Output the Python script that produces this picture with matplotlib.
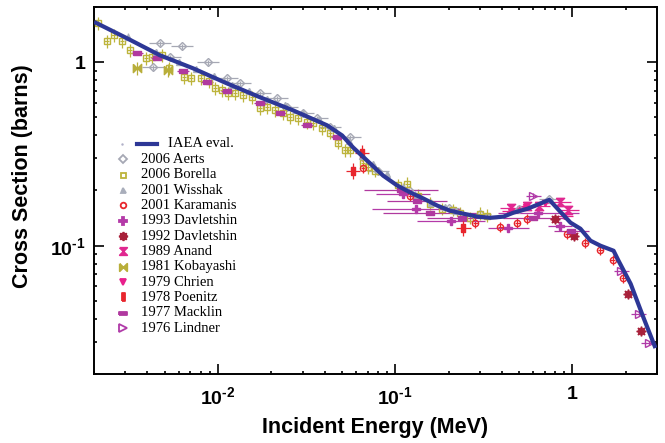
import numpy as np
import matplotlib
matplotlib.use("Agg")
import matplotlib.pyplot as plt
from matplotlib.ticker import FixedLocator, FixedFormatter, LogLocator, NullFormatter

plt.rcParams['mathtext.fontset'] = 'custom'
plt.rcParams['mathtext.rm'] = 'Liberation Sans:bold'
plt.rcParams['mathtext.it'] = 'Liberation Sans:bold'
plt.rcParams['mathtext.bf'] = 'Liberation Sans:bold'
plt.rcParams['mathtext.default'] = 'rm'

# IAEA evaluation (MeV, barns)
iaea_e = [0.002, 0.00306, 0.0047, 0.00723, 0.0112, 0.0173, 0.0265, 0.0413, 0.0502, 0.0579,
          0.0722, 0.0855, 0.1026, 0.1216, 0.1439, 0.1727, 0.2046, 0.2421, 0.2906, 0.3441,
          0.4076, 0.4645, 0.557, 0.659, 0.741, 0.855, 0.975, 1.109, 1.264, 1.439,
          1.706, 1.82, 2.13, 2.52, 2.94]
iaea_xs = [1.66, 1.353, 1.092, 0.927, 0.768, 0.644, 0.547, 0.453, 0.399, 0.343,
           0.281, 0.241, 0.213, 0.195, 0.181, 0.1655, 0.155, 0.1496, 0.144, 0.142,
           0.144, 0.1514, 0.159, 0.1698, 0.178, 0.153, 0.1336, 0.1238, 0.1065, 0.100,
           0.0939, 0.0828, 0.062, 0.0404, 0.0277]

aerts_e = [0.0043, 0.0047, 0.00536, 0.00626, 0.00879, 0.01124, 0.0133, 0.01727, 0.02153, 0.02454,
           0.0302, 0.03625, 0.04292, 0.0557, 0.08, 0.12, 0.2, 0.3, 0.5, 0.74]
aerts_xs = [0.939, 1.27, 1.065, 1.22, 1.0, 0.818, 0.768, 0.677, 0.636, 0.568,
            0.526, 0.494, 0.442, 0.389, 0.255, 0.20, 0.16, 0.148, 0.158, 0.18]

borella_e = [0.0021, 0.00236, 0.00258, 0.00287, 0.00318, 0.00392, 0.00424, 0.00483, 0.00529, 0.00643,
             0.00703, 0.00802, 0.00889, 0.00962, 0.01054, 0.01138, 0.01248, 0.01384, 0.01556, 0.01726,
             0.01892, 0.02099, 0.02328, 0.02552, 0.02831, 0.03184, 0.03443, 0.03869, 0.04292, 0.04762,
             0.05224, 0.05571, 0.06594, 0.07036, 0.07709, 0.104, 0.117, 0.135, 0.158, 0.1844,
             0.2128, 0.2328, 0.2655, 0.302, 0.331]
borella_xs = [1.63, 1.30, 1.40, 1.30, 1.16, 1.05, 1.065, 1.09, 0.927, 0.828,
              0.818, 0.818, 0.787, 0.721, 0.703, 0.677, 0.677, 0.660, 0.644, 0.561,
              0.568, 0.547, 0.526, 0.50, 0.494, 0.47, 0.464, 0.436, 0.414, 0.365,
              0.331, 0.331, 0.284, 0.267, 0.257, 0.213, 0.218, 0.1876, 0.1698, 0.159,
              0.157, 0.151, 0.142, 0.1496, 0.146]

wisshak_e = [0.0031, 0.0045, 0.006, 0.0075, 0.0095, 0.012, 0.015, 0.019, 0.024, 0.03,
             0.037, 0.045, 0.055, 0.065, 0.075, 0.09, 0.11, 0.13, 0.16, 0.19, 0.22]
wisshak_xs = [1.38, 1.14, 1.0, 0.92, 0.84, 0.75, 0.70, 0.63, 0.585, 0.53,
              0.49, 0.44, 0.37, 0.31, 0.28, 0.245, 0.21, 0.19, 0.172, 0.162, 0.155]

karamanis_e = [0.0659, 0.1216, 0.283, 0.392, 0.489, 0.557, 0.937, 1.184, 1.439, 1.683, 1.94]
karamanis_xs = [0.264, 0.1876, 0.1336, 0.127, 0.1336, 0.1405, 0.1163, 0.1038, 0.095, 0.0838, 0.0669]

davl93_e = [0.11, 0.131, 0.207, 0.435, 0.643, 0.855]
davl93_xs = [0.192, 0.159, 0.137, 0.125, 0.151, 0.1285]
davl93_dx = [0.42, 0.78, 0.55, 0.3, 0.7, 0.17]

davl92_e = [0.802, 1.014, 2.05, 2.45]
davl92_xs = [0.1405, 0.1135, 0.0547, 0.0343]

anand_e = [0.45, 0.557, 0.65, 0.855, 0.949]
anand_xs = [0.16, 0.1655, 0.165, 0.174, 0.157]

kobayashi_e = [0.00348, 0.00522]
kobayashi_xs = [0.927, 0.904]

chrien_e = [0.45, 0.55, 0.7, 0.9]
chrien_xs = [0.155, 0.162, 0.17, 0.145]

poenitz_e = [0.0579, 0.0651, 0.242]
poenitz_xs = [0.257, 0.322, 0.125]

macklin_e = [0.00348, 0.00452, 0.00634, 0.00867, 0.01124, 0.01727, 0.0224, 0.03184, 0.04699,
             0.108, 0.133, 0.158, 0.239, 0.602, 0.987]
macklin_xs = [1.12, 1.05, 0.893, 0.778, 0.695, 0.597, 0.526, 0.453, 0.389,
              0.20, 0.176, 0.151, 0.142, 0.142, 0.121]
macklin_dx = [0.08, 0.08, 0.08, 0.08, 0.08, 0.08, 0.08, 0.08, 0.08,
              0.61, 0.48, 0.84, 0.58, 0.48, 0.26]

lindner_e = [0.602, 1.89, 2.36, 2.69]
lindner_xs = [0.1876, 0.073, 0.0425, 0.0295]

# custom marker shapes
hourglass = [(-1, 1), (1, 1), (-1, -1), (1, -1), (-1, 1)]
bowtie = [(-1, 1), (-1, -1), (1, 1), (1, -1), (-1, 1)]
vbar = [(-0.4, -1), (0.4, -1), (0.4, 1), (-0.4, 1), (-0.4, -1)]
hbar = [(-1, -0.4), (1, -0.4), (1, 0.4), (-1, 0.4), (-1, -0.4)]

# label, E, xs, dx(rel), dy(rel), color, marker, size, filled
sets = [
    ('2006 Aerts', aerts_e, aerts_xs, 0.15, 0.03, '#a6a8b4', 'D', 4, False),
    ('2006 Borella', borella_e, borella_xs, 0.03, 0.08, '#bdb43c', 's', 4, False),
    ('2001 Wisshak', wisshak_e, wisshak_xs, 0.03, 0.04, '#a9aebb', '^', 4, True),
    ('2001 Karamanis', karamanis_e, karamanis_xs, 0.03, 0.06, '#e8262c', 'o', 4.5, False),
    ('1993 Davletshin', davl93_e, davl93_xs, davl93_dx, 0.04, '#b43aa8', 'P', 6, True),
    ('1992 Davletshin', davl92_e, davl92_xs, 0.05, 0.04, '#a8203a', (8, 1, 0), 7, True),
    ('1989 Anand', anand_e, anand_xs, 0.15, 0.03, '#e02890', hourglass, 6, True),
    ('1981 Kobayashi', kobayashi_e, kobayashi_xs, 0.04, 0.08, '#b8ae3a', bowtie, 6, True),
    ('1979 Chrien', chrien_e, chrien_xs, 0.12, 0.03, '#e8208c', 'v', 5, True),
    ('1978 Poenitz', poenitz_e, poenitz_xs, 0.1, 0.1, '#e8262e', vbar, 6, True),
    ('1977 Macklin', macklin_e, macklin_xs, macklin_dx, 0.02, '#b0399f', hbar, 6, True),
    ('1976 Lindner', lindner_e, lindner_xs, 0.1, 0.03, '#b03aa8', '>', 6, False),
]

fig = plt.figure(figsize=(6.65, 4.43), dpi=100)
ax = fig.add_axes([0.1414, 0.1558, 0.8466, 0.8284])
ax.set_xscale('log')
ax.set_yscale('log')

for lab, e, xs, dx, dy, col, mk, ms, filled in sets:
    e = np.array(e)
    xs = np.array(xs)
    f = 1 + np.array(dx) * np.ones_like(e)
    xerr = [e - e / f, e * f - e]
    yerr = [xs * dy, xs * dy]
    ax.errorbar(e, xs, xerr=xerr, yerr=yerr, fmt='none', ecolor=col, elinewidth=0.9, capsize=0, zorder=2)
    ax.plot(e, xs, ls='none', marker=mk, ms=ms, color=col,
            mfc=col if filled else 'none', mec=col, mew=1.0, zorder=3)

ax.plot(iaea_e, iaea_xs, color='#2d3796', lw=3.0, zorder=5, solid_capstyle='butt')

ax.set_xlim(0.002, 3.0)
ax.set_ylim(0.02, 2.0)

ax.xaxis.set_major_locator(FixedLocator([0.01, 0.1, 1]))
ax.xaxis.set_major_formatter(FixedFormatter([r'$10^{\text{-}2}$', r'$10^{\text{-}1}$', '1']))
ax.xaxis.set_minor_locator(LogLocator(base=10, subs=np.arange(2, 10)))
ax.xaxis.set_minor_formatter(NullFormatter())
ax.yaxis.set_major_locator(FixedLocator([0.1, 1]))
ax.yaxis.set_major_formatter(FixedFormatter([r'$10^{\text{-}1}$', '1']))
ax.yaxis.set_minor_locator(LogLocator(base=10, subs=np.arange(2, 10)))
ax.yaxis.set_minor_formatter(NullFormatter())

ax.tick_params(which='both', direction='in', top=True, right=True, width=1.2)
ax.tick_params(which='major', length=7)
ax.tick_params(which='minor', length=2.5)
ax.tick_params(axis='x', which='major', pad=9)
ax.tick_params(axis='y', which='major', pad=6)
for lbl in ax.get_xticklabels() + ax.get_yticklabels():
    lbl.set_fontfamily('Liberation Sans')
    lbl.set_fontweight('bold')
    lbl.set_fontsize(14)
for sp in ax.spines.values():
    sp.set_linewidth(1.4)

ax.set_xlabel('Incident Energy (MeV)', fontfamily='Liberation Sans', fontweight='bold', fontsize=15.5)
ax.set_ylabel('Cross Section (barns)', fontfamily='Liberation Sans', fontweight='bold', fontsize=15.5)
ax.xaxis.set_label_coords(0.5, -0.118)
ax.yaxis.set_label_coords(-0.108, 0.54)

# hand-made legend (axes fraction)
row0 = 1 - (144 - 7) / 367.0
step = 15.35 / 367.0
mx, tx = 0.0515, 0.0835
ax.plot([0.0764, 0.112], [row0, row0], transform=ax.transAxes, color='#2d3796', lw=3.0)
ax.plot([mx - 0.001], [row0], transform=ax.transAxes, marker='.', ms=1.5, color='#b0b0c8')
ax.text(0.131, row0, 'IAEA eval.', transform=ax.transAxes, va='center', ha='left',
        fontfamily='Liberation Serif', fontsize=10.5)
for i, (lab, e, xs, dx, dy, col, mk, ms, filled) in enumerate(sets):
    y = row0 - step * (i + 1)
    ax.plot([mx], [y], transform=ax.transAxes, ls='none', marker=mk, ms=ms * 0.9, color=col,
            mfc=col if filled else 'none', mec=col, mew=1.3)
    ax.text(tx, y, lab, transform=ax.transAxes, va='center', ha='left',
            fontfamily='Liberation Serif', fontsize=10.5)

fig.savefig('out.png', dpi=100)
